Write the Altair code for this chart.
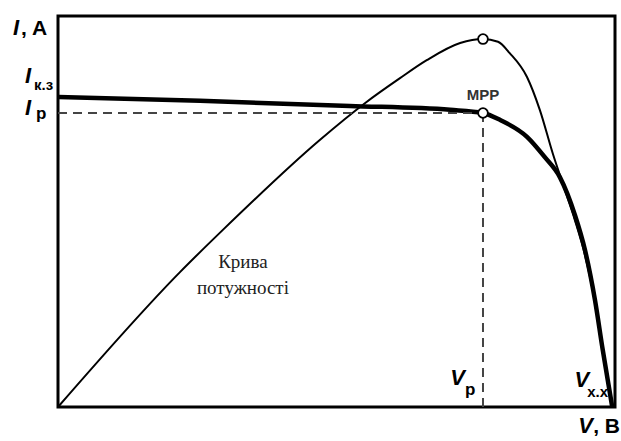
import altair as alt
import pandas as pd

# Current-voltage curve of a solar cell (normalised units, 0..100)
iv_v = [0.0, 25.5, 52.4, 70.4, 76.3, 79.4, 84.2, 87.4, 90.1, 92.8, 94.6, 96.4, 97.8, 98.7, 99.5]
iv_i = [79.3, 78.3, 77.0, 76.0, 75.2, 73.4, 69.1, 63.9, 58.8, 49.1, 40.2, 27.4, 14.6, 6.9, 0.0]

# Power curve
pw_v = [0.0, 21.9, 29.6, 47.0, 55.1, 61.4, 66.2, 72.2, 76.3, 79.0, 81.1, 84.2, 86.5, 88.9, 90.7, 92.8, 94.6, 96.4, 97.8, 98.7, 99.5]
pw_p = [0.0, 34.5, 45.3, 68.3, 77.7, 84.1, 88.7, 93.1, 94.1, 93.4, 90.5, 84.4, 76.0, 64.5, 56.8, 47.8, 38.9, 26.9, 14.1, 6.4, 0.0]

ISC = 79.3   # short-circuit current
IP = 75.2    # current at maximum power point
VP = 76.3    # voltage at maximum power point
PMAX = 94.1  # peak of the power curve
VOC = 99.5   # open-circuit voltage

xs = alt.Scale(domain=[0, 100], nice=False, zero=False)
ys = alt.Scale(domain=[0, 100], nice=False, zero=False)


def X(field):
    return alt.X(field, type="quantitative", scale=xs, axis=None)


def Y(field):
    return alt.Y(field, type="quantitative", scale=ys, axis=None)


iv_df = pd.DataFrame({"v": iv_v, "i": iv_i})
pw_df = pd.DataFrame({"v": pw_v, "p": pw_p})
mpp_df = pd.DataFrame({"v": [VP, VP], "y": [IP, PMAX]})
rules_df = pd.DataFrame({"x": [0, VP], "x2": [VP, VP], "y": [IP, 0], "y2": [IP, IP]})

power = alt.Chart(pw_df).mark_line(
    color="black", strokeWidth=2, interpolate="monotone"
).encode(x=X("v"), y=Y("p"))

iv = alt.Chart(iv_df).mark_line(
    color="black", strokeWidth=4.5, interpolate="monotone"
).encode(x=X("v"), y=Y("i"))

rules = alt.Chart(rules_df).mark_rule(
    color="#444444", strokeWidth=2, strokeDash=[9, 6]
).encode(x=X("x"), x2="x2:Q", y=Y("y"), y2="y2:Q")

points = alt.Chart(mpp_df).mark_point(
    shape="circle", filled=True, fill="white", stroke="black",
    strokeWidth=1.8, size=95, opacity=1
).encode(x=X("v"), y=Y("y"))

SANS = "Liberation Sans"
SERIF = "Liberation Serif"


def label(text, x, y, dx, dy, size, italic=False, align="left",
          baseline="alphabetic", font=SANS, weight="bold", color="black"):
    df = pd.DataFrame({"x": [x], "y": [y], "t": [text]})
    return alt.Chart(df).mark_text(
        dx=dx, dy=dy, fontSize=size, font=font,
        fontStyle="italic" if italic else "normal", fontWeight=weight,
        align=align, baseline=baseline, color=color,
    ).encode(x=X("x"), y=Y("y"), text="t:N")


texts = [
    # axis titles
    label("I", 0, 100, -45, 19, 22, italic=True),
    label(", A", 0, 100, -37, 19, 21),
    label("V", 100, 0, -22, 26, 22, italic=True, align="right"),
    label(", B", 100, 0, 5, 26, 21, align="right"),
    # current labels
    label("I", 0, ISC, -33, -14, 22, italic=True),
    label("к.з", 0, ISC, -24, -7, 15),
    label("I", 0, IP, -33, 2, 22, italic=True),
    label("p", 0, IP, -22, 6, 17),
    # voltage labels
    label("V", VP, 0, -18, -22, 22, italic=True, align="right"),
    label("p", VP, 0, -18, -12, 17),
    label("V", VOC, 0, -23, -20, 22, italic=True, align="right"),
    label("x.x", VOC, 0, -25, -10, 15),
    # maximum power point
    label("MPP", VP, IP, 0, -18, 15, align="center", baseline="middle",
          color="#333333"),
    # power curve caption
    label("Крива", 33.2, 37.1, 0, 0, 19, align="center", baseline="middle",
          font=SERIF, weight="normal", color="#222222"),
    label("потужності", 33.2, 30.4, 0, 0, 19, align="center",
          baseline="middle", font=SERIF, weight="normal", color="#222222"),
]

chart = alt.layer(power, iv, rules, points, *texts).properties(
    width=557,
    height=391,
    autosize=alt.AutoSizeParams(type="none"),
    padding={"left": 58, "top": 16, "right": 6, "bottom": 34},
    background="white",
).configure_view(
    stroke="black", strokeWidth=3
)

chart.save("out.html", embed_options={"renderer": "svg", "actions": False})
